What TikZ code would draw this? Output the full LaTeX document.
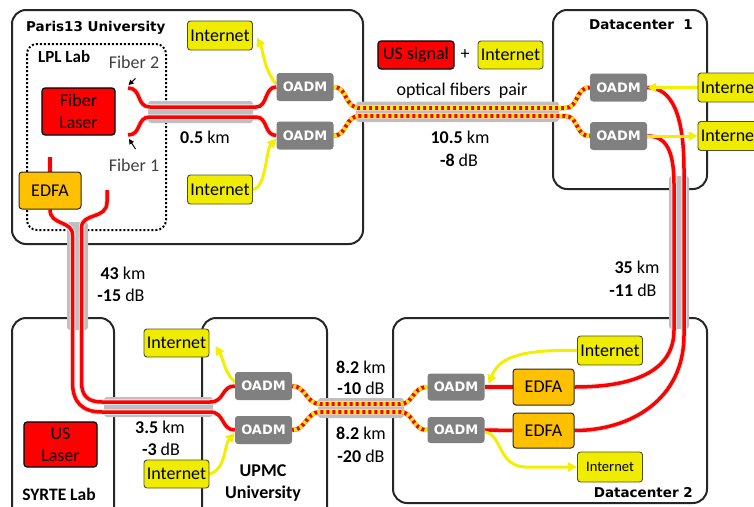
\documentclass[tikz,border=0pt]{standalone}
\usepackage{fontspec}
\setmainfont{Carlito}
\newfontfamily\dvs{DejaVu Sans}
\usetikzlibrary{arrows.meta}
\definecolor{yel}{RGB}{240,236,0}
\definecolor{yarrc}{RGB}{242,240,0}
\definecolor{inetb}{RGB}{80,80,30}
\definecolor{redc}{RGB}{255,0,0}
\definecolor{orc}{RGB}{255,192,0}
\definecolor{oadmc}{RGB}{128,128,128}
\definecolor{bandc}{RGB}{191,191,191}
\definecolor{boxc}{RGB}{38,38,38}
\definecolor{haloc}{RGB}{232,232,232}
\definecolor{txtg}{RGB}{64,64,64}
\newcommand\fsz[2]{\fontsize{#1}{#2}\selectfont}
\pgfdeclarelayer{boxes}\pgfdeclarelayer{bands}\pgfdeclarelayer{fibres}
\pgfsetlayers{boxes,bands,fibres,main}
\tikzset{
  site/.style={draw=boxc,line width=2pt,rounded corners=14pt},
  labbox/.style={draw=black,line width=2pt,dotted,rounded corners=10pt},
  band/.style={fill=bandc,rounded corners=3pt},
  inet/.style={fill=yel,draw=inetb,line width=0.9pt,rounded corners=3pt,minimum width=65pt,minimum height=29pt,inner sep=0pt,font=\fsz{18}{20}},
  oadm/.style={fill=oadmc,rounded corners=3pt,minimum width=57pt,minimum height=28pt,inner sep=0pt,text=white,font=\dvs\bfseries\fsz{13}{15}},
  redbox/.style={fill=redc,draw=black,line width=1.2pt,rounded corners=3pt,inner sep=0pt,align=center,font=\fsz{18}{22}},
  edfa/.style={fill=orc,draw=boxc,line width=1pt,rounded corners=3pt,minimum width=61pt,minimum height=36pt,inner sep=0pt,font=\fsz{18}{20}},
  fib/.style={draw=redc,line width=3.5pt,preaction={draw=haloc,line width=5.5pt}},
  dfib/.style={draw=redc,line width=4pt,preaction={draw=haloc,line width=5.5pt},postaction={draw=yel,line width=4pt,dash pattern=on 3pt off 3pt}},
  yarr/.style={draw=yarrc,line width=3pt,-{Triangle[length=9pt,width=9pt]}},
  larr/.style={draw=black,line width=1pt,-{Triangle[length=5pt,width=5pt]}},
  lbl/.style={font=\fsz{18}{20},inner sep=0pt},
  title/.style={font=\dvs\bfseries\fsz{13.5}{16},inner sep=0pt},
  ctitle/.style={font=\bfseries\fsz{18}{22},inner sep=0pt,align=center}
}
\begin{document}
\begin{tikzpicture}[x=1pt,y=-1pt]
\useasboundingbox (0,0) rectangle (754,506);

% site boxes
\begin{pgfonlayer}{boxes}
\draw[site] (12,10) rectangle (363,244);
\draw[labbox] (27,44) rectangle (166,230);
\draw[site] (553,10) rectangle (707,189);
\draw[site] (12,318) rectangle (114,540);
\draw[site] (202,318) rectangle (327,540);
\draw[site] (393,318) rectangle (707,503);
\end{pgfonlayer}

% grey fibre bundles
\begin{pgfonlayer}{bands}
\fill[band] (148,101) rectangle (253,123);
\fill[band] (356,101.5) rectangle (559,122);
\fill[band] (67,222) rectangle (88,330);
\fill[band] (104,397) rectangle (213,417);
\fill[band] (318,398) rectangle (404,418);
\fill[band] (669,176) rectangle (689,329);
\end{pgfonlayer}

% nodes
\node[redbox,minimum width=73pt,minimum height=47pt] (flaser) at (78.5,111.5) {Fiber\\Laser};
\node[edfa,minimum width=62pt,minimum height=37pt] (pE) at (50,190.5) {EDFA};
\node[inet] (iA) at (220,35.5) {Internet};
\node[inet] (iB) at (220,189.5) {Internet};
\node[oadm] (oA) at (305,87) {OADM};
\node[oadm] (oB) at (305,135.5) {OADM};
\node[redbox,minimum width=76pt,minimum height=28pt] (ussig) at (416,55) {US signal};
\node[lbl] (plus) at (465,55) {+};
\node[inet,minimum height=28pt] (ileg) at (510.5,55) {Internet};
\node[lbl] (ofp) at (462,91) {optical fibers\ \ pair};
\node[oadm] (dA) at (618.5,87.5) {OADM};
\node[oadm] (dB) at (618.5,136) {OADM};
\node[inet] (diA) at (730.5,87.5) {Internet};
\node[inet] (diB) at (730.5,136) {Internet};
\node[redbox,minimum width=73pt,minimum height=45pt] (uslaser) at (60.5,444.5) {US\\Laser};
\node[inet,minimum height=28pt] (uiA) at (176.5,343) {Internet};
\node[inet,minimum height=28pt] (uiB) at (176.5,474) {Internet};
\node[oadm] (uA) at (263.5,386) {OADM};
\node[oadm] (uB) at (263.5,430) {OADM};
\node[oadm,minimum height=27pt] (qA) at (456,387) {OADM};
\node[oadm,minimum height=26pt] (qB) at (456,430) {OADM};
\node[edfa] (eA) at (543.5,387) {EDFA};
\node[edfa,minimum height=35pt] (eB) at (543.5,430.5) {EDFA};
\node[inet] (qiA) at (610,350.5) {Internet};
\node[inet,minimum height=30pt,font=\fsz{14.5}{16}] (qiB) at (610,467) {Internet};

% titles
\node[title,anchor=west] (tparis) at (26,28) {Paris13 University};
\node[font=\bfseries\fsz{17}{20},inner sep=0pt,anchor=west] (tlpl) at (38,57) {LPL Lab};
\node[title,anchor=east] (tdc1) at (693,25) {Datacenter\ \ 1};
\node[title,anchor=east] (tdc2) at (693,493) {Datacenter 2};
\node[font=\bfseries\fsz{17.5}{20},inner sep=0pt] (tsyrte) at (59,494) {SYRTE Lab};
\node[ctitle] (tupmc) at (263,483) {UPMC\\University};
\node[lbl,text=txtg] (tf2) at (134,62) {Fiber 2};
\node[lbl,text=txtg] (tf1) at (134,165) {Fiber 1};

% distance labels
\node[lbl] (d05) at (205,137) {\textbf{0.5} km};
\node[lbl] (d105) at (460,137) {\textbf{10.5} km};
\node[lbl] (d8) at (459,160) {\textbf{-8} dB};
\node[lbl] (d43) at (123,273) {\textbf{43} km};
\node[lbl] (d15) at (121,295) {\textbf{-15} dB};
\node[lbl] (d35) at (637,267) {\textbf{35} km};
\node[lbl] (d11) at (633,290) {\textbf{-11} dB};
\node[lbl] (d35b) at (160,427) {\textbf{3.5} km};
\node[lbl] (d3) at (161,449) {\textbf{-3} dB};
\node[lbl] (d82a) at (361,367) {\textbf{8.2} km};
\node[lbl] (d10) at (361,388) {\textbf{-10} dB};
\node[lbl] (d82b) at (361,433) {\textbf{8.2} km};
\node[lbl] (d20) at (361,456) {\textbf{-20} dB};

% free ends
\coordinate (f2) at (128,88);
\coordinate (f1) at (128,135);
\coordinate (fe) at (107,190);
\coordinate (stub) at (50,157);
\coordinate (a2s) at (135.5,78.5);
\coordinate (a2e) at (128.5,85);
\coordinate (a1s) at (135.5,149);
\coordinate (a1e) at (129,139);

\begin{pgfonlayer}{fibres}
% Paris
\draw[fib] (f2) .. controls (142,88) and (136,107) .. (150,107) -- (256,107) .. controls (268,107) and (264,87) .. (oA.west);
\draw[fib] (f1) .. controls (142,135) and (136,117) .. (150,117) -- (256,117) .. controls (268,117) and (264,135.5) .. (oB.west);
\draw[dfib] (oA.east) .. controls (348,87) and (344,108) .. (360,108) -- (565,108) .. controls (579,108) and (575,87.5) .. (dA.west);
\draw[dfib] (oB.east) .. controls (348,135.5) and (344,116) .. (360,116) -- (565,116) .. controls (579,116) and (575,136) .. (dB.west);
% Datacenter 1 -> Datacenter 2
\draw[fib] (dA.east) .. controls (672,87.5) and (684,115) .. (684,170) -- (684,335) .. controls (684,400) and (630,430.5) .. (eB.east);
\draw[fib] (dB.east) .. controls (666,136) and (674,150) .. (674,185) -- (674,330) .. controls (674,368) and (640,387) .. (eA.east);
\draw[fib] (qA.east) -- (eA.west);
\draw[fib] (qB.east) -- (eB.west);
% Datacenter 2 -> UPMC
\draw[dfib] (qA.west) .. controls (412,387) and (414,404) .. (400,404) -- (320,404) .. controls (306,404) and (306,386) .. (uA.east);
\draw[dfib] (qB.west) .. controls (412,430) and (414,412) .. (400,412) -- (320,412) .. controls (306,412) and (306,430) .. (uB.east);
% UPMC -> Paris
\draw[fib] (uA.west) .. controls (221,386) and (225,402) .. (210,402) -- (102,402) .. controls (88,402) and (81.5,396) .. (81.5,382) -- (81.5,228) .. controls (81.5,212) and (107,220) .. (107,202) -- (fe);
\draw[fib] (uB.west) .. controls (221,430) and (225,412) .. (210,412) -- (102,412) .. controls (82,412) and (72.5,402) .. (72.5,382) -- (72.5,235) .. controls (72.5,220) and (50,226) .. (pE.south);
\draw[fib] (stub) -- (pE.north);
% internet arrows
\draw[yarr] ([yshift=3pt]oA.west) .. controls (264,70) and (263,50) .. ([xshift=4pt,yshift=-2pt]iA.east);
\draw[yarr] (iB.east) .. controls (266,188) and (266,150) .. ([yshift=-3pt]oB.west);
\draw[yarr] (diA.west) -- (dA.east);
\draw[yarr] (dB.east) -- (diB.west);
\draw[yarr] ([yshift=4pt]uA.west) .. controls (224,372) and (224,360) .. ([xshift=6pt,yshift=-3pt]uiA.east);
\draw[yarr] (uiB.east) .. controls (226,470) and (224,445) .. ([yshift=-3pt]uB.west);
\draw[yarr] (qiA.west) .. controls (515,349) and (498,360) .. ([xshift=4pt,yshift=3pt]qA.east);
\draw[yarr] ([yshift=-2pt]qB.east) .. controls (502,434) and (498,466) .. (525,467) -- (qiB.west);
\end{pgfonlayer}
\draw[larr] (a2s) -- (a2e);
\draw[larr] (a1s) -- (a1e);
\end{tikzpicture}
\end{document}
